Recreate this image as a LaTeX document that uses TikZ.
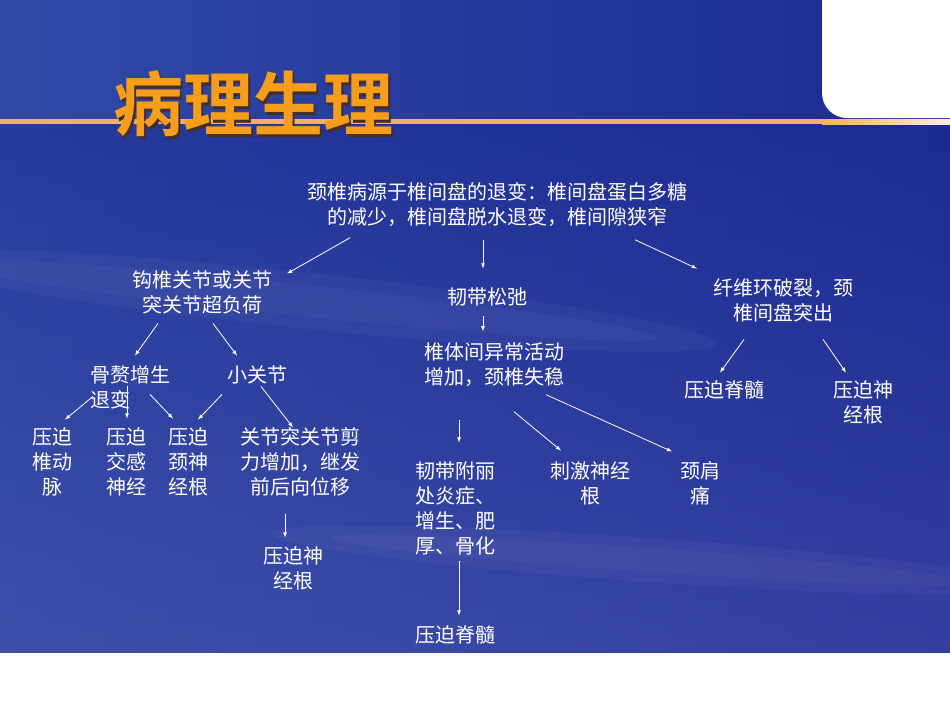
\documentclass[tikz,border=0pt]{standalone}
\usepackage{fontspec}
\newfontfamily\cjk{Noto Sans CJK SC}
\newfontfamily\cjkbf{Noto Sans CJK SC Bold}
\usetikzlibrary{arrows}

\definecolor{bgleft}{RGB}{48,74,166}
\definecolor{bgright}{RGB}{28,42,146}
\definecolor{bgbot}{RGB}{80,88,176}
\definecolor{lineor}{RGB}{240,178,98}
\definecolor{linecream}{RGB}{250,238,222}
\definecolor{titleor}{RGB}{246,158,28}
\definecolor{titleshadow}{RGB}{70,45,40}

\begin{document}
\begin{tikzpicture}[x=1pt, y=-1pt, >=latex, inner sep=0pt,
	lbl/.style={text=white, font=\cjk\fontsize{20}{25}\selectfont, align=center},
	pfeil/.style={->, draw=white, line width=0.8pt}]

	\useasboundingbox (0,0) rectangle (950,713);

	% Hintergrund
	\fill[white] (0,0) rectangle (950,713);
	\shade[left color=bgleft, right color=bgright] (0,0) rectangle (950,652);
	\shade[top color=bgright, bottom color=bgbot, opacity=0.45] (0,124) rectangle (950,652);
	\fill[white, opacity=0.035, rotate around={-6:(300,300)}] (300,300) ellipse [x radius=420, y radius=28];
	\fill[white, opacity=0.03, rotate around={-6:(300,300)}] (300,300) ellipse [x radius=360, y radius=16];
	\fill[white, opacity=0.035, rotate around={-4:(650,560)}] (650,560) ellipse [x radius=380, y radius=22];
	\fill[white, opacity=0.03, rotate around={-4:(650,560)}] (650,560) ellipse [x radius=320, y radius=12];
	\fill[white] (950,0) -- (822,0) -- (822,93) arc[start angle=180, end angle=90, radius=25] -- (950,118) -- cycle;
	\fill[lineor] (0,119) rectangle (822,124);
	\shade[left color=lineor, right color=linecream] (822,119) rectangle (950,124);

	% Titel (mit Schatten)
	\node[text=titleor, font=\cjkbf\fontsize{70}{70}\selectfont](titel) at (253,105)
		{\rlap{\raisebox{-2.5pt}{\kern2.5pt\color{titleshadow}病理生理}}病理生理};

	% Knoten
	\node[lbl](root) at (497,205) {颈椎病源于椎间盘的退变：椎间盘蛋白多糖\\的减少，椎间盘脱水退变，椎间隙狭窄};

	\node[lbl](joint) at (202,292) {钩椎关节或关节\\突关节超负荷};
	\node[lbl](lig) at (487,297) {韧带松弛};
	\node[lbl](fib) at (783,300) {纤维环破裂，颈\\椎间盘突出};

	\node[lbl, align=left](osteo) at (130,387.5) {骨赘增生\\退变};
	\node[lbl](small) at (257,375) {小关节};
	\node[lbl](unst) at (494,365) {椎体间异常活动\\增加，颈椎失稳};
	\node[lbl](cord_b) at (724,390) {压迫脊髓};
	\node[lbl](nerve_b) at (863,402.5) {压迫神\\经根};

	\node[lbl](va) at (52,462) {压迫\\椎动\\脉};
	\node[lbl](symp) at (126,462) {压迫\\交感\\神经};
	\node[lbl](cerv) at (188,462) {压迫\\颈神\\经根};
	\node[lbl](shear) at (300,462) {关节突关节剪\\力增加，继发\\前后向位移};
	\node[lbl](nerve_a) at (293,568.5) {压迫神\\经根};

	\node[lbl](liga) at (455,508.5) {韧带附丽\\处炎症、\\增生、肥\\厚、骨化};
	\node[lbl](stim) at (590,483) {刺激神经\\根};
	\node[lbl](neck) at (700,483) {颈肩\\痛};
	\node[lbl](cord_a) at (455,635) {压迫脊髓};

	% Pfeile oben
	\draw[pfeil] ([xshift=-147pt, yshift=-10.5pt]root.south) -- ([xshift=85pt, yshift=-3.5pt]joint.north);
	\draw[pfeil] ([xshift=-14pt, yshift=-12.5pt]root.south) -- ([xshift=-4pt, yshift=19pt]lig.north);
	\draw[pfeil] ([xshift=138pt, yshift=-12.5pt]root.south) -- ([xshift=-86pt, yshift=9.5pt]fib.north);

	% Pfeile links
	\draw[pfeil] ([xshift=-44pt, yshift=-9.5pt]joint.south) -- ([xshift=5pt, yshift=10pt]osteo.north);
	\draw[pfeil] ([xshift=11pt, yshift=-9.5pt]joint.south) -- ([xshift=-20pt, yshift=10pt]small.north);
	\draw[pfeil] ([xshift=-37pt, yshift=13pt]osteo.south) -- ([xshift=13pt, yshift=8pt]va.north);
	\draw[pfeil] ([xshift=-3pt, yshift=23pt]osteo.south) -- ([xshift=1pt, yshift=9pt]symp.north);
	\draw[pfeil] ([xshift=20pt, yshift=15pt]osteo.south) -- ([xshift=-15pt, yshift=9pt]cerv.north);
	\draw[pfeil] ([xshift=-35pt, yshift=-10pt]small.south) -- ([xshift=10pt, yshift=8pt]cerv.north);
	\draw[pfeil] ([xshift=4pt, yshift=-2pt]small.south) -- ([xshift=-7pt]shear.north);
	\draw[pfeil] ([xshift=-15pt, yshift=-17pt]shear.south) -- ([xshift=-8pt, yshift=9pt]nerve_a.north);

	% Pfeile Mitte
	\draw[pfeil] ([xshift=-4pt, yshift=-10pt]lig.south) -- ([xshift=-11pt, yshift=11.5pt]unst.north);
	\draw[pfeil] ([xshift=-35pt, yshift=-32.5pt]unst.south) -- ([xshift=4pt, yshift=19pt]liga.north);
	\draw[pfeil] ([xshift=20pt, yshift=-24.5pt]unst.south) -- ([xshift=-29pt, yshift=10.5pt]stim.north);
	\draw[pfeil] ([xshift=52pt, yshift=-7.5pt]unst.south) -- ([xshift=-28pt, yshift=9.5pt]neck.north);
	\draw[pfeil] ([xshift=4pt, yshift=-6pt]liga.south) -- ([xshift=4pt, yshift=10pt]cord_a.north);

	% Pfeile rechts
	\draw[pfeil] ([xshift=-39pt, yshift=-17.5pt]fib.south) -- ([xshift=-4pt, yshift=8pt]cord_b.north);
	\draw[pfeil] ([xshift=40pt, yshift=-17.5pt]fib.south) -- ([xshift=-17pt, yshift=8pt]nerve_b.north);
\end{tikzpicture}
\end{document}
